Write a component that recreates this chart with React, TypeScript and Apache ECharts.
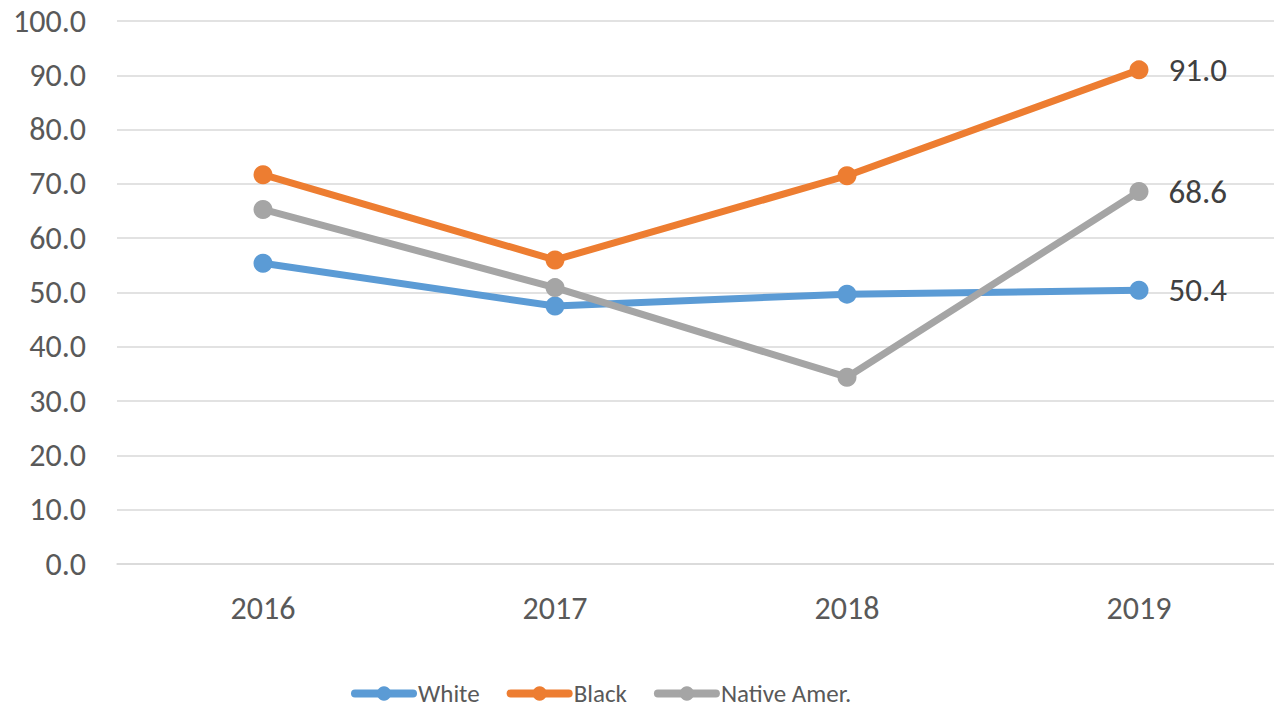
import React, { useEffect, useRef } from "react";
import * as echarts from "echarts";

const years = ["2016", "2017", "2018", "2019"];
const whiteValues = [55.4, 47.5, 49.7, 50.4];
const blackValues = [71.7, 56.0, 71.5, 91.0];
const nativeValues = [65.3, 50.9, 34.4, 68.6];
const seriesNames = ["White", "Black", "Native Amer."];
const seriesColors = ["#5B9BD5", "#ED7D31", "#A5A5A5"];

const FONT = "Calibri, Carlito, 'Open Sans', sans-serif";

export default function App() {
  const ref = useRef<HTMLDivElement>(null);
  useEffect(() => {
    if (!ref.current) return;
    const chart = echarts.init(ref.current, null, { renderer: "svg" });
    const datasets = [whiteValues, blackValues, nativeValues];
    chart.setOption({
      animation: false,
      backgroundColor: "#ffffff",
      grid: { left: 117, right: 0, top: 21, bottom: 149, containLabel: false },
      legend: {
        left: 346,
        top: 676,
        itemWidth: 58,
        itemHeight: 18,
        itemGap: 27,
        lineStyle: { width: 8 },
        textStyle: { fontFamily: FONT, fontSize: 25, color: "#595959" },
        data: seriesNames,
      },
      xAxis: {
        type: "category",
        data: years,
        boundaryGap: true,
        axisLine: { show: true, lineStyle: { color: "#D9D9D9", width: 1.5 } },
        axisTick: { show: false },
        axisLabel: { margin: 28, fontFamily: FONT, fontSize: 32, color: "#595959" },
        splitLine: { show: false },
      },
      yAxis: {
        type: "value",
        min: 0,
        max: 100,
        interval: 10,
        axisLine: { show: false },
        axisTick: { show: false },
        axisLabel: {
          margin: 31,
          fontFamily: FONT,
          fontSize: 32,
          color: "#595959",
          formatter: (v: number) => v.toFixed(1),
        },
        splitLine: { show: true, lineStyle: { color: "#D9D9D9", width: 1.5 } },
      },
      series: seriesNames.map((name, i) => ({
        name,
        type: "line",
        data: datasets[i].map((v, j) => ({
          value: v,
          label: j === years.length - 1 ? { show: true } : { show: false },
        })),
        color: seriesColors[i],
        symbol: "circle",
        symbolSize: 19,
        lineStyle: { width: 7, color: seriesColors[i], cap: "round", join: "round" },
        itemStyle: { color: seriesColors[i] },
        label: {
          position: "right",
          distance: 20,
          fontFamily: FONT,
          fontSize: 33,
          color: "#404040",
          formatter: (p: any) => Number(p.value).toFixed(1),
        },
        z: 2 + i,
      })),
    });
    return () => chart.dispose();
  }, []);
  return (
    <div style={{ position: "fixed", left: 0, top: 0, width: 1274, height: 713, overflow: "hidden", background: "#fff" }}>
      <div ref={ref} style={{ position: "absolute", left: 0, top: 0, width: 1285, height: 713 }} />
    </div>
  );
}
